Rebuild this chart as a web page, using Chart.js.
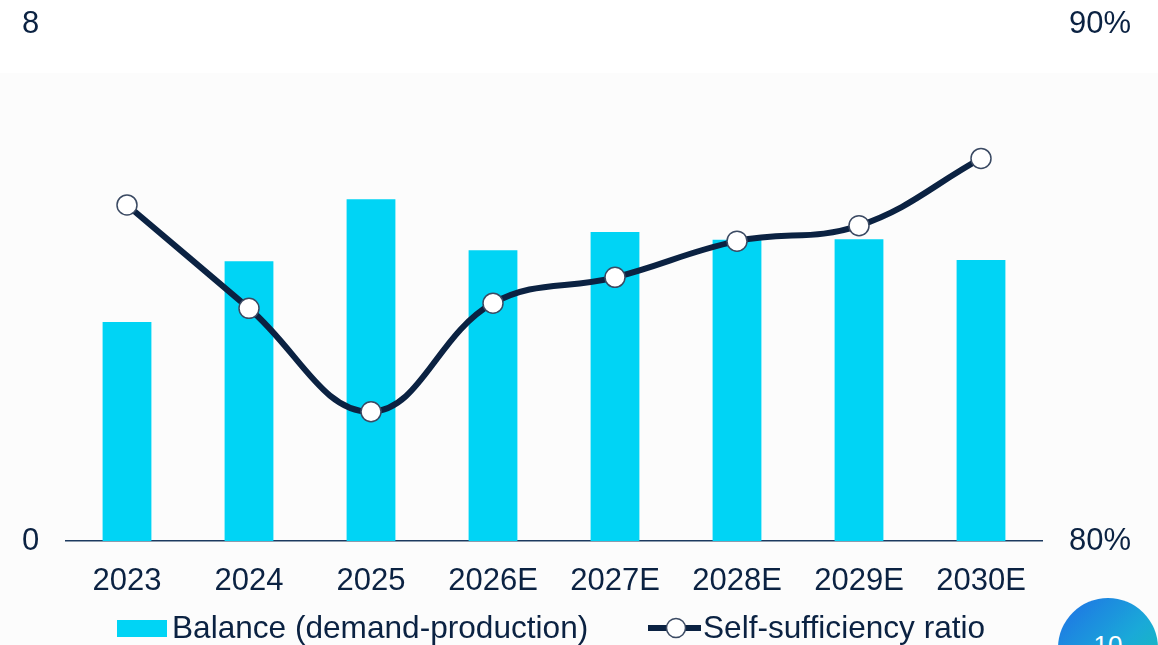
<!DOCTYPE html>
<html>
<head>
<meta charset="utf-8">
<script src="https://cdn.jsdelivr.net/npm/chart.js@4.4.1/dist/chart.umd.min.js"></script>
<style>
  html, body { margin: 0; padding: 0; background: #ffffff; overflow: hidden; }
  #wrap { position: relative; width: 1158px; height: 645px; }
  #panel { position: absolute; left: 0; top: 73px; width: 1158px; height: 572px; background: #fcfcfc; }
  #chart { position: absolute; left: 0; top: 0; }
  #badge {
    position: absolute; left: 1058px; top: 598px; width: 100px; height: 100px;
    border-radius: 50%;
    background: linear-gradient(135deg, #1f6fe6 0%, #1aa9d8 55%, #14c4b0 100%);
    color: #fff; font: 26px "Liberation Sans", Arial, sans-serif;
    text-align: center; line-height: 94px;
  }
</style>
</head>
<body>
<div id="wrap">
  <div id="panel"></div>
  <canvas id="chart" width="1158" height="645"></canvas>
  <div id="badge">10</div>
</div>
<script>
/* =========================
   DATA
========================= */
const years = ["2023", "2024", "2025", "2026E", "2027E", "2028E", "2029E", "2030E"];
const balance = [3.39, 4.33, 5.29, 4.50, 4.78, 4.66, 4.67, 4.35];
const selfRatio = [86.5, 84.5, 82.5, 84.6, 85.1, 85.8, 86.1, 87.4];

const leftTicks = [0, 8];
const rightTicks = [80, 90];

const NAVY = "#0b2242";
const CYAN = "#00d4f5";
const RING = "#3b4a63";
const FONT = "'Liberation Sans', Arial, sans-serif";

/* =========================
   LEGEND (drawn under the axis)
========================= */
const bottomLegend = {
  id: "bottomLegend",
  afterDraw(chart) {
    const g = chart.ctx;
    const bar = chart.data.datasets[1];
    const line = chart.data.datasets[0];
    const y = 628;

    g.save();
    g.font = "31.6px " + FONT;
    g.textBaseline = "middle";

    // bar item
    g.fillStyle = bar.backgroundColor;
    g.fillRect(117, 620, 50, 17);
    g.fillStyle = NAVY;
    g.fillText(bar.label, 172, y + 1);

    // line item
    g.strokeStyle = line.borderColor;
    g.lineWidth = 6;
    g.beginPath();
    g.moveTo(648, y);
    g.lineTo(701, y);
    g.stroke();
    g.beginPath();
    g.arc(676, y, 9.5, 0, Math.PI * 2);
    g.fillStyle = "#ffffff";
    g.fill();
    g.lineWidth = 1.5;
    g.strokeStyle = RING;
    g.stroke();
    g.fillStyle = NAVY;
    g.fillText(line.label, 703, y + 1);
    g.restore();
  }
};

/* =========================
   CHART
========================= */
const ctx = document.getElementById("chart");

new Chart(ctx, {
  data: {
    labels: years,
    datasets: [
      {
        type: "line",
        label: "Self-sufficiency ratio",
        data: selfRatio,
        yAxisID: "yRight",
        borderColor: NAVY,
        borderWidth: 6,
        tension: 0.4,
        pointRadius: 10,
        pointBackgroundColor: "#ffffff",
        pointBorderColor: RING,
        pointBorderWidth: 1.5,
        order: 0
      },
      {
        type: "bar",
        label: "Balance (demand-production)",
        data: balance,
        yAxisID: "yLeft",
        backgroundColor: CYAN,
        barPercentage: 0.4,
        categoryPercentage: 1,
        order: 1
      }
    ]
  },
  plugins: [bottomLegend],
  options: {
    responsive: false,
    animation: false,
    layout: { padding: { top: 24, bottom: 36, left: 22, right: 27 } },
    plugins: {
      tooltip: { enabled: false },
      legend: { display: false }
    },
    scales: {
      x: {
        grid: { display: false },
        border: { display: true, color: "#1d3a5f", width: 1.5 },
        afterFit: (s) => { s.height = 68; },
        ticks: { color: NAVY, font: { family: FONT, size: 31 }, padding: 14 }
      },
      yLeft: {
        position: "left",
        min: 0,
        max: 8,
        grid: { display: false },
        border: { display: false },
        afterBuildTicks: (s) => { s.ticks = leftTicks.map(v => ({ value: v })); },
        afterFit: (s) => { s.width = 44; },
        ticks: { color: NAVY, font: { family: FONT, size: 31 }, padding: 0, crossAlign: "far" }
      },
      yRight: {
        position: "right",
        min: 80,
        max: 90,
        grid: { display: false },
        border: { display: false },
        afterBuildTicks: (s) => { s.ticks = rightTicks.map(v => ({ value: v })); },
        afterFit: (s) => { s.width = 89; },
        ticks: {
          color: NAVY,
          font: { family: FONT, size: 31 },
          padding: 0,
          crossAlign: "far",
          callback: (v) => v + "%"
        }
      }
    }
  }
});
</script>
</body>
</html>
